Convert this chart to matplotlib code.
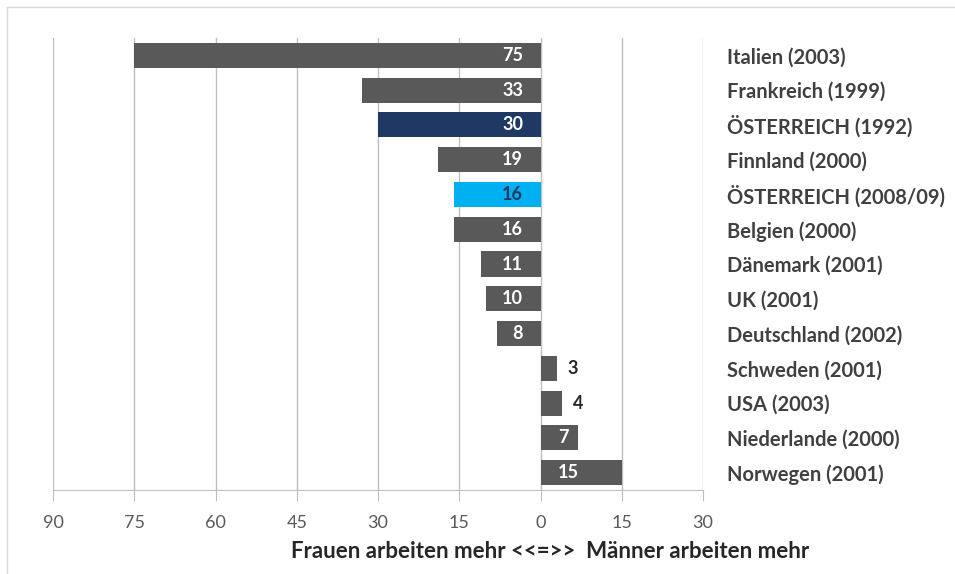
import matplotlib.pyplot as plt
from matplotlib.ticker import FuncFormatter
from matplotlib.lines import Line2D
import numpy as np


# =========================
# DATOS
# =========================

LAENDER = [
    "Italien (2003)",
    "Frankreich (1999)",
    "ÖSTERREICH (1992)",
    "Finnland (2000)",
    "ÖSTERREICH (2008/09)",
    "Belgien (2000)",
    "Dänemark (2001)",
    "UK (2001)",
    "Deutschland (2002)",
    "Schweden (2001)",
    "USA (2003)",
    "Niederlande (2000)",
    "Norwegen (2001)",
]

# negativ = Frauen arbeiten mehr, positiv = Männer arbeiten mehr
DIFFERENZ = [-75, -33, -30, -19, -16, -16, -11, -10, -8, 3, 4, 7, 15]

X_TICKS = [-90, -75, -60, -45, -30, -15, 0, 15, 30]

GRAU = "#595959"
DUNKELBLAU = "#1f3864"
HELLBLAU = "#00b0f0"

BALKEN_FARBEN = [GRAU, GRAU, DUNKELBLAU, GRAU, HELLBLAU, GRAU, GRAU,
                 GRAU, GRAU, GRAU, GRAU, GRAU, GRAU]

FONT = "Lato"


def main() -> None:
    fig = plt.figure(figsize=(9.55, 5.74), dpi=100)
    ax = fig.add_axes([53 / 955, 1 - 490 / 574, 650 / 955, 452 / 574])

    y = np.arange(len(LAENDER))
    ax.barh(y, DIFFERENZ, height=0.72, color=BALKEN_FARBEN, zorder=3)

    ax.set_xlim(-90, 30)
    ax.set_ylim(len(LAENDER) - 0.5, -0.5)

    # Gitter und Achsen
    ax.set_xticks(X_TICKS)
    ax.xaxis.set_major_formatter(FuncFormatter(lambda v, p: f"{abs(int(v))}"))
    ax.grid(axis="x", color="#bfbfbf", linewidth=1.0, zorder=0)
    for side in ["top", "left", "right"]:
        ax.spines[side].set_visible(False)
    ax.spines["bottom"].set_color("#bfbfbf")
    ax.tick_params(axis="x", direction="out", length=8, color="#bfbfbf",
                   labelsize=13, labelcolor=GRAU, pad=10)
    for lbl in ax.get_xticklabels():
        lbl.set_fontfamily(FONT)

    ax.yaxis.tick_right()
    ax.set_yticks(y)
    ax.set_yticklabels(LAENDER, fontfamily=FONT, fontweight="bold",
                       fontsize=14.5, color="#404040")
    ax.tick_params(axis="y", length=0, pad=17.5)

    # Werte an den Balken
    for yi, val, farbe in zip(y, DIFFERENZ, BALKEN_FARBEN):
        txt_farbe = "white"
        if farbe == HELLBLAU:
            txt_farbe = DUNKELBLAU
        if val < 0:
            ax.text(-3.2, yi, f"{abs(val)}", ha="right", va="center",
                    color=txt_farbe, fontweight="bold", fontsize=13,
                    fontfamily=FONT, zorder=4)
        elif val >= 7:
            ax.text(3.2, yi, f"{val}", ha="left", va="center",
                    color=txt_farbe, fontweight="bold", fontsize=13,
                    fontfamily=FONT, zorder=4)
        else:
            ax.text(val + 2, yi, f"{val}", ha="left", va="center",
                    color="#262626", fontweight="bold", fontsize=13,
                    fontfamily=FONT, zorder=4)

    fig.text(550 / 955, 1 - 551 / 574,
             "Frauen arbeiten mehr <<=>>  Männer arbeiten mehr",
             ha="center", va="center", fontfamily=FONT, fontweight="bold",
             fontsize=16, color="#262626")

    # Rahmen oben und links
    fig.add_artist(Line2D([7 / 955, 1], [1 - 7 / 574, 1 - 7 / 574],
                          transform=fig.transFigure, color="#d9d9d9", lw=1))
    fig.add_artist(Line2D([7 / 955, 7 / 955], [0, 1 - 7 / 574],
                          transform=fig.transFigure, color="#d9d9d9", lw=1))

    fig.savefig("out.png", dpi=100)


if __name__ == "__main__":
    main()
